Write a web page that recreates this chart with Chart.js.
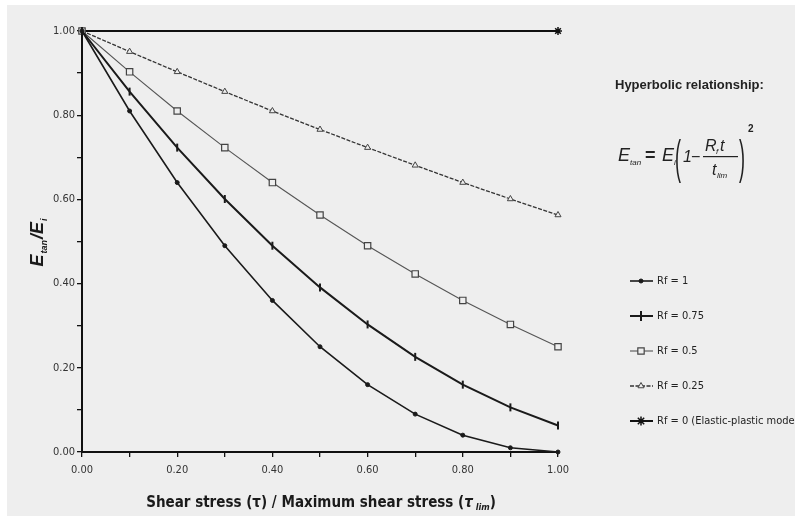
<!DOCTYPE html>
<html>
<head>
<meta charset="utf-8">
<script src="https://cdn.jsdelivr.net/npm/chart.js@4.4.1/dist/chart.umd.min.js"></script>
<style>
  html, body { margin: 0; padding: 0; background: #fff; }
  #wrap { width: 795px; height: 517px; }
</style>
</head>
<body>
<div id="wrap"><canvas id="chart" width="795" height="517"></canvas></div>
<script>
// values
const shearRatio = [0, 0.1, 0.2, 0.3, 0.4, 0.5, 0.6, 0.7, 0.8, 0.9, 1.0];
const rf1    = [1, 0.81, 0.64, 0.49, 0.36, 0.25, 0.16, 0.09, 0.04, 0.01, 0];
const rf075  = [1, 0.856, 0.723, 0.601, 0.49, 0.391, 0.303, 0.226, 0.16, 0.106, 0.063];
const rf05   = [1, 0.903, 0.81, 0.723, 0.64, 0.563, 0.49, 0.423, 0.36, 0.303, 0.25];
const rf025  = [1, 0.951, 0.903, 0.856, 0.81, 0.766, 0.723, 0.681, 0.64, 0.601, 0.563];
const rf0    = [1, 1, 1, 1, 1, 1, 1, 1, 1, 1, 1];
const seriesNames = ['Rf = 1', 'Rf = 0.75', 'Rf = 0.5', 'Rf = 0.25', 'Rf = 0 (Elastic-plastic model)'];
const xTickLabels = ['0.00', '0.20', '0.40', '0.60', '0.80', '1.00'];
const yTickLabels = ['0.00', '0.20', '0.40', '0.60', '0.80', '1.00'];

const NARROW = '"DejaVu Sans Condensed", "Liberation Sans", sans-serif';
const SANS = '"Liberation Sans", Arial, sans-serif';
const BG = '#eeeeee';

function toPoints(values) {
    return shearRatio.map((x, i) => ({ x: x, y: values[i] }));
}

// only every second tick (0.2 step) gets a label
function tickLabel(labels) {
    return function (value) {
        const k = Math.round(value * 10);
        if (k % 2 !== 0) return '';
        return labels[k / 2];
    };
}

const datasets = [
    { label: seriesNames[0], data: toPoints(rf1), borderColor: '#1a1a1a', borderWidth: 1.6,
      pointStyle: 'circle', pointRadius: 2, pointBackgroundColor: '#1a1a1a', pointBorderColor: '#1a1a1a', pointBorderWidth: 1, legendRadius: 2 },
    { label: seriesNames[1], data: toPoints(rf075), borderColor: '#1a1a1a', borderWidth: 2,
      pointStyle: 'line', pointRotation: 90, pointRadius: 4, pointBackgroundColor: '#1a1a1a', pointBorderColor: '#1a1a1a', pointBorderWidth: 2, legendRadius: 5 },
    { label: seriesNames[2], data: toPoints(rf05), borderColor: '#555', borderWidth: 1.1,
      pointStyle: 'rect', pointRadius: 4.5, pointBackgroundColor: BG, pointBorderColor: '#444', pointBorderWidth: 1.2, legendRadius: 4.5 },
    { label: seriesNames[3], data: toPoints(rf025), borderColor: '#333', borderWidth: 1.3, borderDash: [4, 1.5],
      pointStyle: 'triangle', pointRadius: 3.5, pointBackgroundColor: BG, pointBorderColor: '#444', pointBorderWidth: 1, legendRadius: 3.5 },
    { label: seriesNames[4], data: toPoints(rf0), borderColor: '#111', borderWidth: 2,
      pointStyle: 'star', pointRadius: rf0.map((v, i) => (i === 0 || i === rf0.length - 1) ? 4 : 0),
      pointBackgroundColor: '#111', pointBorderColor: '#111', pointBorderWidth: 1.5, legendRadius: 4.5 }
];

const decorPlugin = {
    id: 'decor',
    beforeDraw(chart) {
        const ctx = chart.ctx;
        ctx.save();
        ctx.fillStyle = '#fff';
        ctx.fillRect(0, 0, chart.width, chart.height);
        ctx.fillStyle = BG;
        ctx.fillRect(7, 5, chart.width - 7, chart.height - 6);
        ctx.restore();
    },
    afterDraw(chart) {
        const ctx = chart.ctx;
        ctx.save();
        ctx.fillStyle = '#1a1a1a';
        ctx.textBaseline = 'alphabetic';

        // y axis title, rotated
        ctx.save();
        ctx.translate(43, 242);
        ctx.rotate(-Math.PI / 2);
        const big = 'italic bold 18px ' + SANS;
        const small = 'italic bold 9px ' + SANS;
        const parts = [['E', big, 0], ['tan', small, 4], ['/E', big, 0], ['i', small, 4]];
        let total = 0;
        parts.forEach(p => { ctx.font = p[1]; total += ctx.measureText(p[0]).width + 1; });
        let px = -total / 2;
        parts.forEach(p => {
            ctx.font = p[1];
            ctx.fillText(p[0], px, p[2]);
            px += ctx.measureText(p[0]).width + 1;
        });
        ctx.restore();

        // x axis title
        const xt = 'bold 15px ' + NARROW;
        const xs = 'italic bold 9px ' + NARROW;
        const xparts = [['Shear stress (τ) / Maximum shear stress (', xt, 0], ['τ', 'italic bold 15px ' + NARROW, 0], [' lim', xs, 3], [')', xt, 0]];
        let xw = 0;
        xparts.forEach(p => { ctx.font = p[1]; xw += ctx.measureText(p[0]).width; });
        let xx = 321 - xw / 2;
        xparts.forEach(p => {
            ctx.font = p[1];
            ctx.fillText(p[0], xx, 507 + p[2]);
            xx += ctx.measureText(p[0]).width;
        });

        // formula block
        ctx.fillStyle = '#222';
        ctx.font = 'bold 13px ' + SANS;
        ctx.fillText('Hyperbolic relationship:', 615, 89);

        ctx.font = 'italic 18px ' + SANS;
        ctx.fillText('E', 618, 161);
        ctx.font = 'italic 8px ' + SANS;
        ctx.fillText('tan', 630, 165);
        ctx.font = 'bold 18px ' + SANS;
        ctx.fillText('=', 645, 161);
        ctx.font = 'italic 18px ' + SANS;
        ctx.fillText('E', 662, 161);
        ctx.font = 'italic 8px ' + SANS;
        ctx.fillText('i', 674, 165);
        // tall brackets
        ctx.save();
        ctx.font = '18px ' + SANS;
        ctx.translate(0, 157);
        ctx.scale(1, 2.6);
        ctx.fillText('(', 675, 6);
        ctx.fillText(')', 739, 6);
        ctx.restore();
        ctx.font = 'italic 16px ' + SANS;
        ctx.fillText('1', 683, 162);
        ctx.font = '16px ' + SANS;
        ctx.fillText('\u2212', 691, 162);
        ctx.font = 'italic 16px ' + SANS;
        ctx.fillText('R', 705, 151);
        ctx.font = 'italic 8px ' + SANS;
        ctx.fillText('f', 716, 154);
        ctx.font = 'italic 16px ' + SANS;
        ctx.fillText('t', 720, 151);
        ctx.fillText('t', 712, 175);
        ctx.font = 'italic 8px ' + SANS;
        ctx.fillText('lim', 717, 178);
        ctx.fillRect(703, 156, 35, 1.2);
        ctx.font = 'bold 10px ' + SANS;
        ctx.fillText('2', 748, 132);

        // legend
        seriesNames.forEach((name, i) => {
            const ds = chart.data.datasets[i];
            const y = 281 + i * 35;
            ctx.save();
            ctx.strokeStyle = ds.borderColor;
            ctx.lineWidth = ds.borderWidth;
            ctx.setLineDash(ds.borderDash || []);
            ctx.beginPath();
            ctx.moveTo(630, y);
            ctx.lineTo(653, y);
            ctx.stroke();
            ctx.setLineDash([]);
            ctx.fillStyle = ds.pointBackgroundColor;
            ctx.strokeStyle = ds.pointBorderColor;
            ctx.lineWidth = ds.pointBorderWidth;
            Chart.helpers.drawPoint(ctx, {
                pointStyle: ds.pointStyle,
                rotation: ds.pointRotation || 0,
                radius: ds.legendRadius,
                borderWidth: ds.pointBorderWidth
            }, 641, y);
            ctx.restore();
            ctx.fillStyle = '#222';
            ctx.font = '11px ' + NARROW;
            ctx.textBaseline = 'middle';
            ctx.fillText(name, 657, y);
        });
        ctx.restore();
    }
};

new Chart(document.getElementById('chart'), {
    type: 'line',
    data: { datasets: datasets },
    plugins: [decorPlugin],
    options: {
        responsive: false,
        animation: false,
        devicePixelRatio: 1,
        layout: { padding: { left: 0, right: 237, top: 31, bottom: 0 } },
        elements: { line: { tension: 0 } },
        datasets: { line: { clip: false } },
        plugins: { legend: { display: false }, tooltip: { enabled: false } },
        scales: {
            x: {
                type: 'linear', min: 0, max: 1,
                afterFit(scale) { scale.height = 65; },
                ticks: { stepSize: 0.1, autoSkip: false, maxRotation: 0, padding: 7,
                         color: '#333', font: { family: NARROW, size: 11 }, callback: tickLabel(xTickLabels) },
                grid: { drawOnChartArea: false, drawTicks: true, tickLength: 5, color: '#111', lineWidth: 1.3 },
                border: { color: '#111', width: 2 }
            },
            y: {
                type: 'linear', min: 0, max: 1,
                afterFit(scale) { scale.width = 82; },
                ticks: { stepSize: 0.1, autoSkip: false, padding: 2,
                         color: '#333', font: { family: NARROW, size: 11 }, callback: tickLabel(yTickLabels) },
                grid: { drawOnChartArea: false, drawTicks: true, tickLength: 5, color: '#111', lineWidth: 1.3 },
                border: { color: '#111', width: 2 }
            }
        }
    }
});
</script>
</body>
</html>
